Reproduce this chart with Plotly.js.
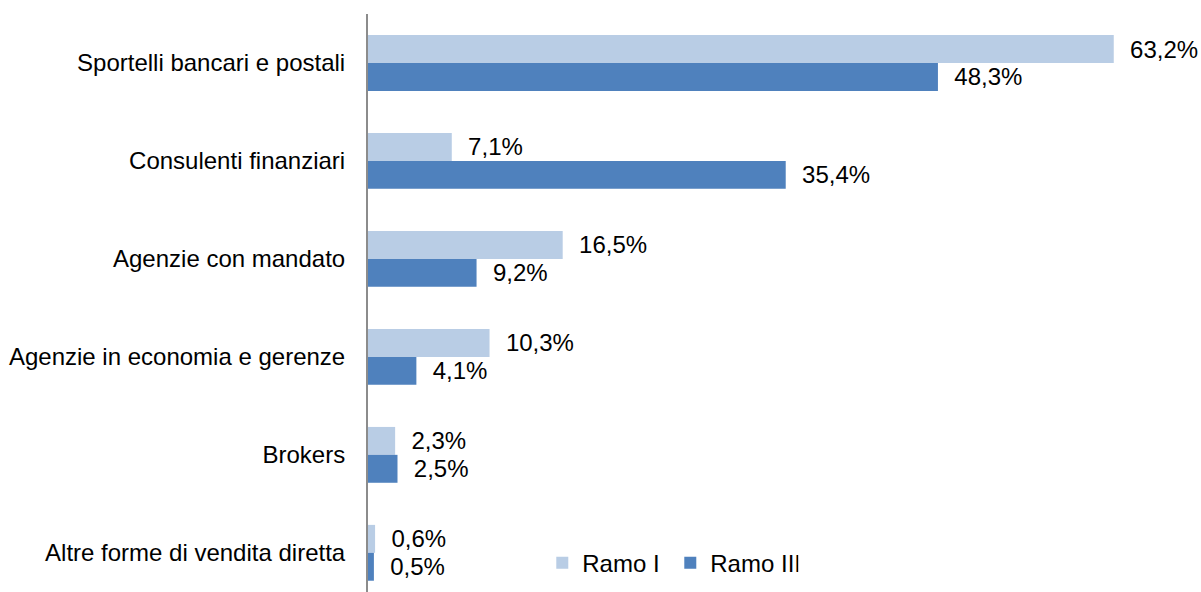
<!DOCTYPE html>
<html>
<head>
<meta charset="utf-8">
<script src="https://cdn.plot.ly/plotly-3.0.1.min.js"></script>
<style>
  html, body { margin: 0; padding: 0; background: #fff; }
  #chart { width: 1201px; height: 592px; }
</style>
</head>
<body>
<div id="chart"></div>
<script>
const categories = [
  "Sportelli bancari e postali",
  "Consulenti finanziari",
  "Agenzie con mandato",
  "Agenzie in economia e gerenze",
  "Brokers",
  "Altre forme di vendita diretta"
];
const ramoI = [63.2, 7.1, 16.5, 10.3, 2.3, 0.6];
const ramoIII = [48.3, 35.4, 9.2, 4.1, 2.5, 0.5];
const seriesNames = ["Ramo I", "Ramo III"];

const fmt = v => "\u00a0\u00a0" + v.toFixed(1).replace(".", ",") + "%";
const FONT = "Liberation Sans, Arial, sans-serif";

function makeTrace(name, values, color) {
  return {
    type: "bar",
    orientation: "h",
    name: name,
    y: categories,
    x: values,
    text: values.map(fmt),
    textposition: "outside",
    textfont: { family: FONT, size: 24, color: "#000" },
    constraintext: "none",
    cliponaxis: false,
    marker: { color: color },
    hoverinfo: "skip"
  };
}

const data = [
  makeTrace(seriesNames[0], ramoI, "#B9CDE5"),
  makeTrace(seriesNames[1], ramoIII, "#4F81BD")
];

const layout = {
  width: 1201,
  height: 592,
  margin: { l: 368, r: 7, t: 14, b: 0 },
  paper_bgcolor: "#fff",
  plot_bgcolor: "#fff",
  font: { family: FONT, size: 24, color: "#000" },
  barmode: "group",
  bargap: 0.43,
  bargroupgap: 0,
  showlegend: true,
  legend: {
    orientation: "h",
    x: 0.211, xanchor: "left",
    y: 0.05, yanchor: "middle",
    font: { family: FONT, size: 24, color: "#000" },
    bgcolor: "rgba(0,0,0,0)",
    itemwidth: 30,
    entrywidth: 83,
    entrywidthmode: "pixels",
    traceorder: "normal"
  },
  xaxis: {
    range: [0, 70],
    showgrid: false,
    zeroline: false,
    showline: false,
    showticklabels: false,
    ticks: "",
    fixedrange: true
  },
  yaxis: {
    type: "category",
    range: [5.4, -0.5],
    showgrid: false,
    zeroline: false,
    showline: true,
    linecolor: "#8c8c8c",
    linewidth: 2,
    ticks: "",
    ticklabelstandoff: 16,
    tickfont: { family: FONT, size: 24, color: "#000" },
    fixedrange: true
  }
};

Plotly.newPlot("chart", data, layout, { displayModeBar: false, staticPlot: true });
</script>
</body>
</html>
